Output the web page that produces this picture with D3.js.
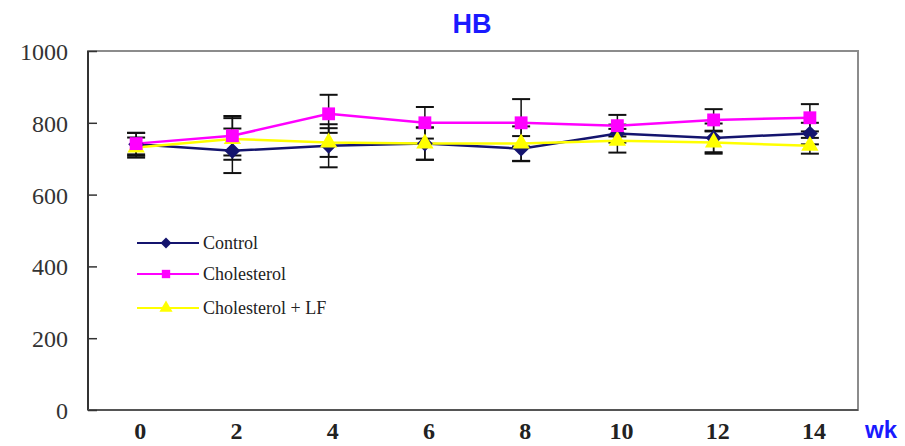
<!DOCTYPE html>
<html><head><meta charset="utf-8">
<script src="https://cdn.jsdelivr.net/npm/d3@7"></script>
<style>body{margin:0;background:#fff}</style>
</head><body><svg id="c" width="905" height="446"></svg>
<script>
const weeks = ["0","2","4","6","8","10","12","14"];
const yTicks = [0,200,400,600,800,1000];
const controlVals = [740,722,736,742,728,770,758,770];
const controlErr  = [32,62,60,45,35,25,40,30];
const cholVals    = [742,764,825,800,800,792,808,814];
const cholErr     = [30,55,53,44,66,30,30,38];
const lfVals      = [731,755,745,742,742,750,745,736];
const lfErr       = [28,58,40,45,48,33,31,22];
const seriesNames = ["Control","Cholesterol","Cholesterol + LF"];

const series = [
  {name:seriesNames[0], vals:controlVals, err:controlErr, color:"#14146e", shape:d3.symbolSquare, size:125, rot:45, lsize:60},
  {name:seriesNames[1], vals:cholVals, err:cholErr, color:"#ff00ff", shape:d3.symbolSquare, size:165, rot:0, lsize:70},
  {name:seriesNames[2], vals:lfVals, err:lfErr, color:"#ffff00", shape:d3.symbolTriangle, size:130, rot:0, lsize:75}
];

const svg = d3.select("#c");
const L=88, R=858, T=51, B=410;
const x = d3.scaleBand().domain(weeks).range([L,R]);
const y = d3.scaleLinear().domain([0,1000]).range([B,T]);
const cx = d => x(d)+x.bandwidth()/2;

// frame
svg.append("rect").attr("x",L).attr("y",T).attr("width",R-L).attr("height",B-T)
  .attr("fill","#fff").attr("stroke","#8c8c8c").attr("stroke-width",2);
svg.append("line").attr("x1",L).attr("x2",L).attr("y1",T).attr("y2",B).attr("stroke","#333").attr("stroke-width",2);
svg.append("line").attr("x1",L).attr("x2",R).attr("y1",B).attr("y2",B).attr("stroke","#555").attr("stroke-width",2);

// y axis
const yAxis = d3.axisLeft(y).tickValues(yTicks).tickSize(-9).tickPadding(20).tickFormat(d3.format("d"));
const ga = svg.append("g").attr("transform",`translate(${L},0)`).call(yAxis);
ga.select(".domain").remove();
ga.selectAll(".tick line").attr("stroke","#333").attr("stroke-width",1.5);
ga.selectAll("text").attr("font-family","Liberation Serif").attr("font-size",24).attr("fill","#333").attr("dy","0.35em");

// x axis labels
const xAxis = d3.axisBottom(x).tickSize(0).tickPadding(12);
const gx = svg.append("g").attr("transform",`translate(4,${B})`).call(xAxis);
gx.select(".domain").remove();
gx.selectAll("text").attr("font-family","Liberation Serif").attr("font-weight","bold").attr("font-size",24).attr("fill","#222");

// title and wk
svg.append("text").attr("x",472).attr("y",33).attr("text-anchor","middle")
  .attr("font-family","Liberation Sans").attr("font-weight","bold").attr("font-size",27).attr("fill","#1a1aff").text("HB");
svg.append("text").attr("x",881).attr("y",438).attr("text-anchor","middle")
  .attr("font-family","Liberation Sans").attr("font-weight","bold").attr("font-size",24).attr("fill","#1a1aff").text("wk");

// error bars
series.forEach(s=>{
  const g = svg.append("g");
  weeks.forEach((w,i)=>{
    const xc=cx(w), y1=y(s.vals[i]+s.err[i]), y2=y(s.vals[i]-s.err[i]);
    g.append("line").attr("x1",xc).attr("x2",xc).attr("y1",y1).attr("y2",y2).attr("stroke","#111").attr("stroke-width",1.5);
    [y1,y2].forEach(yy=>g.append("line").attr("x1",xc-9).attr("x2",xc+9).attr("y1",yy).attr("y2",yy).attr("stroke","#111").attr("stroke-width",2));
  });
});

// lines & markers
const line = d3.line().x((d,i)=>cx(weeks[i])).y(d=>y(d));
[series[0],series[2],series[1]].forEach(s=>{
  svg.append("path").datum(s.vals).attr("d",line).attr("fill","none").attr("stroke",s.color).attr("stroke-width",2.5);
});
[series[0],series[2],series[1]].forEach(s=>{
  svg.selectAll(null).data(s.vals).enter().append("path")
    .attr("d",d3.symbol().type(s.shape).size(s.size))
    .attr("transform",(d,i)=>`translate(${cx(weeks[i])},${y(d)}) rotate(${s.rot})`)
    .attr("fill",s.color);
});

// legend
const ly=[243,274,308];
series.forEach((s,i)=>{
  const g=svg.append("g");
  g.append("line").attr("x1",137).attr("x2",199).attr("y1",ly[i]).attr("y2",ly[i]).attr("stroke",s.color).attr("stroke-width",2);
  g.append("path").attr("d",d3.symbol().type(s.shape).size(s.lsize)).attr("transform",`translate(166,${ly[i]}) rotate(${s.rot})`).attr("fill",s.color);
  g.append("text").attr("x",203).attr("y",ly[i]+6).attr("font-family","Liberation Serif").attr("font-size",18).attr("fill","#222").text(s.name);
});
</script></body></html>
